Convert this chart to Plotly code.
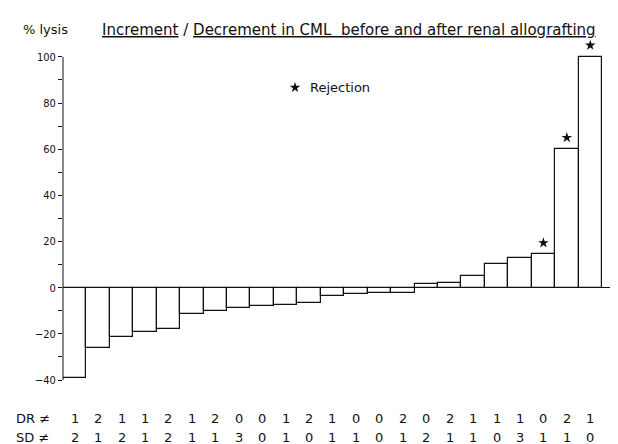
import plotly.graph_objects as go

# % lysis increment / decrement per patient (sorted)
lysis_change = [-39.3, -26.3, -21.2, -19.3, -18.0, -11.5, -10.0, -9.0, -7.9, -7.7,
                -6.8, -3.5, -2.8, -2.3, -2.3, 1.5, 2.0, 5.2, 10.4, 13.0, 14.4, 60.0, 100.0]
dr_mismatch = [1, 2, 1, 1, 2, 1, 2, 0, 0, 1, 2, 1, 0, 0, 2, 0, 2, 1, 1, 1, 0, 2, 1]
sd_mismatch = [2, 1, 2, 1, 2, 1, 1, 3, 0, 1, 0, 1, 1, 0, 1, 2, 1, 1, 0, 3, 1, 1, 0]
rejection_idx = [20, 21, 22]
y_ticks = [-40, -20, 0, 20, 40, 60, 80, 100]

FONT = "DejaVu Sans, sans-serif"
FONT_C = "DejaVu Sans Condensed, DejaVu Sans, sans-serif"
INK = "#111111"

patients = list(range(len(lysis_change)))

fig = go.Figure()
fig.add_bar(
    x=patients, y=lysis_change, width=1,
    marker=dict(color="white", line=dict(color=INK, width=1.2)),
    showlegend=False, hoverinfo="skip",
)
fig.add_scatter(
    x=rejection_idx, y=[lysis_change[i] + 5 for i in rejection_idx],
    mode="markers", cliponaxis=False,
    marker=dict(symbol="star", size=8, color=INK),
    showlegend=False, hoverinfo="skip",
)
# legend key
fig.add_scatter(
    x=[9.4], y=[86.7], mode="markers",
    marker=dict(symbol="star", size=8, color=INK),
    showlegend=False, hoverinfo="skip",
)

annotations = [
    dict(x=9.95, y=86.7, xref="x", yref="y", text="Rejection", showarrow=False,
         xanchor="left", yanchor="middle", font=dict(size=13, color=INK, family=FONT)),
    dict(x=-0.075, y=1.039, xref="paper", yref="paper", text="% lysis", showarrow=False,
         xanchor="left", yanchor="middle", font=dict(size=13, color=INK, family=FONT)),
    dict(x=0.066, y=1.039, xref="paper", yref="paper",
         text="<u>Increment</u> / <u>Decrement in CML  before and after renal allografting</u>",
         showarrow=False, xanchor="left", yanchor="middle",
         font=dict(size=15, color=INK, family=FONT)),
    dict(x=-0.087, y=-0.113, xref="paper", yref="paper", text="DR ≠", showarrow=False,
         xanchor="left", yanchor="middle", font=dict(size=13, color=INK, family=FONT)),
    dict(x=-0.087, y=-0.172, xref="paper", yref="paper", text="SD ≠", showarrow=False,
         xanchor="left", yanchor="middle", font=dict(size=13, color=INK, family=FONT)),
]
for i, (d, s) in enumerate(zip(dr_mismatch, sd_mismatch)):
    annotations.append(dict(x=i, y=-0.113, xref="x", yref="paper", text=str(d),
                            showarrow=False, xanchor="center", yanchor="middle",
                            font=dict(size=13, color=INK, family=FONT)))
    annotations.append(dict(x=i, y=-0.172, xref="x", yref="paper", text=str(s),
                            showarrow=False, xanchor="center", yanchor="middle",
                            font=dict(size=13, color=INK, family=FONT)))

fig.update_layout(
    width=618, height=444,
    margin=dict(l=55, r=2, t=35, b=72),
    paper_bgcolor="white", plot_bgcolor="white",
    bargap=0,
    annotations=annotations,
    shapes=[dict(type="line", xref="paper", yref="y", x0=0, x1=0, y0=-40, y1=100,
                 line=dict(color=INK, width=1))],
    xaxis=dict(range=[-0.5, 23.44], showticklabels=False, showgrid=False,
               zeroline=False, showline=False, ticks=""),
    yaxis=dict(range=[-40, 106], tickvals=y_ticks, showgrid=False,
               zeroline=True, zerolinecolor=INK, zerolinewidth=1,
               showline=False,
               ticks="outside", ticklen=4, tickcolor=INK, tickwidth=1,
               minor=dict(tickvals=[-30, -10, 10, 30, 50, 70, 90], ticks="outside",
                          ticklen=4, tickcolor=INK, tickwidth=1),
               tickfont=dict(size=11, color=INK, family=FONT_C)),
)

fig.write_html("out.html")
